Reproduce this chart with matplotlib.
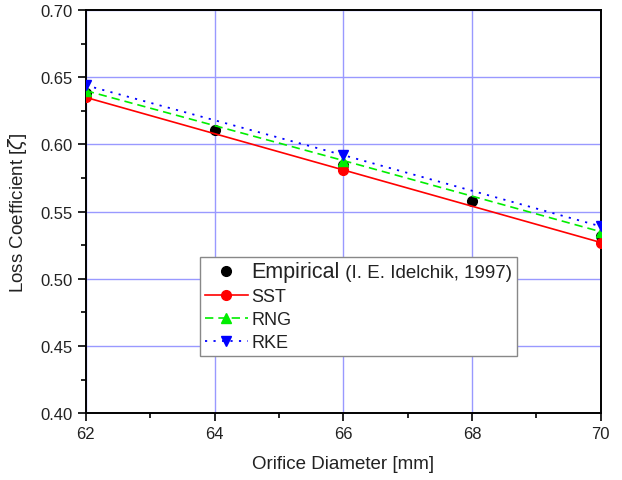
"""Loss coefficient vs orifice diameter: empirical vs CFD turbulence models."""

import matplotlib
matplotlib.use("Agg")
import matplotlib.pyplot as plt
from matplotlib.offsetbox import HPacker, TextArea
from matplotlib.ticker import MultipleLocator

plt.rcParams["font.family"] = ["Liberation Sans", "DejaVu Sans"]

# data
diam_emp = [62, 64, 66, 68, 70]
zeta_emp = [0.638, 0.611, 0.585, 0.558, 0.532]

diam_cfd = [62, 66, 70]
zeta_sst = [0.635, 0.581, 0.527]
zeta_rng = [0.640, 0.588, 0.535]
zeta_rke = [0.644, 0.592, 0.539]

TEXT = "#222222"

fig = plt.figure(figsize=(6.22, 4.81), dpi=100)
ax = fig.add_axes([0.138, 0.139, 0.828, 0.838])

ax.plot(diam_emp, zeta_emp, "o", color="black", markersize=7, label="Empirical", zorder=3)
ax.plot(diam_cfd, zeta_sst, "-o", color="red", lw=1.2, markersize=7, label="SST", zorder=4)
ax.plot(diam_cfd, zeta_rng, "--^", color="#00ee00", lw=1.2, markersize=7,
        dashes=(5, 3), label="RNG", zorder=5)
ax.plot(diam_cfd, zeta_rke, ":v", color="blue", lw=1.3, markersize=7,
        dashes=(1.2, 3.5), label="RKE", zorder=6)

ax.set_xlim(62, 70)
ax.set_ylim(0.40, 0.70)
ax.xaxis.set_major_locator(MultipleLocator(2))
ax.xaxis.set_minor_locator(MultipleLocator(1))
ax.yaxis.set_major_locator(MultipleLocator(0.05))
ax.yaxis.set_minor_locator(MultipleLocator(0.025))
ax.yaxis.set_major_formatter(lambda v, pos: f"{v:.2f}")
ax.tick_params(which="major", direction="out", length=6, width=1.2,
               labelsize=12, labelcolor=TEXT)
ax.tick_params(which="minor", direction="out", length=3.5, width=1.2)
ax.grid(True, which="major", color="#9999ff", lw=1)
ax.set_axisbelow(True)
for s in ax.spines.values():
    s.set_linewidth(1.4)

ax.set_xlabel("Orifice Diameter [mm]", fontsize=13.5, color=TEXT, labelpad=10)
ax.set_ylabel(r"Loss Coefficient [$\zeta$]", fontsize=13.5, color=TEXT, labelpad=8)

leg = ax.legend(loc="lower left", bbox_to_anchor=(0.222, 0.143), borderaxespad=0,
                fontsize=13, handlelength=2.4, handletextpad=0.2, labelspacing=0.33,
                fancybox=False, shadow=False, edgecolor="#888888", framealpha=1,
                borderpad=0.25)
leg.get_frame().set_linewidth(1.0)
for t in leg.get_texts():
    t.set_color(TEXT)

# first entry: big "Empirical" followed by a smaller citation
item = leg._legend_handle_box.get_children()[0].get_children()[0]
cite = HPacker(pad=0, sep=0, align="baseline", children=[
    TextArea("Empirical", textprops=dict(fontsize=15.5, color=TEXT)),
    TextArea(" (I. E. Idelchik, 1997)", textprops=dict(fontsize=13.5, color=TEXT)),
])
cite.set_figure(fig)
for c in cite.get_children():
    c.set_figure(fig)
    c._text.set_figure(fig)
item._children[1] = cite

fig.savefig("out.png", dpi=100)
